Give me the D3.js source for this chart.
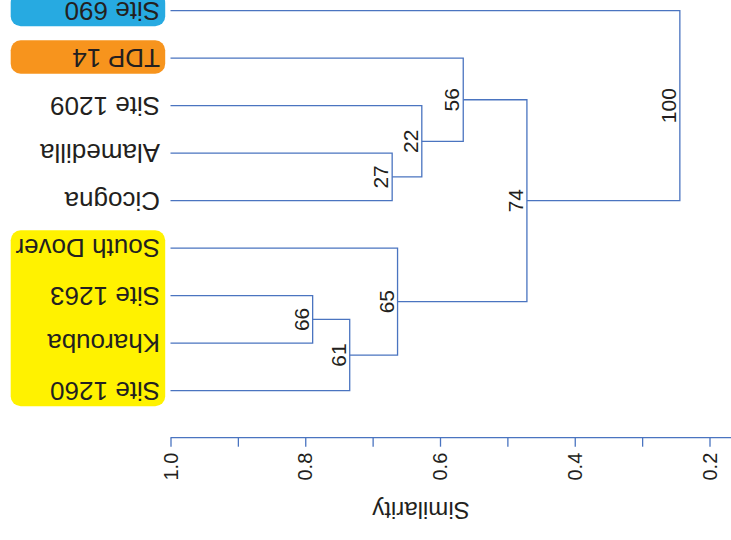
<!DOCTYPE html>
<html>
<head>
<meta charset="utf-8">
<script src="https://cdn.jsdelivr.net/npm/d3@7"></script>
<style>
  html, body { margin: 0; padding: 0; background: #fff; }
  svg { display: block; }
  text { font-family: "Liberation Sans", Arial, sans-serif; fill: #231f20; }
</style>
</head>
<body>
<svg id="chart" width="731" height="540"></svg>
<script>
// ---- data ----
const leaves = ["Site 690", "TDP 14", "Site 1209", "Alamedilla", "Cicogna",
                "South Dover", "Site 1263", "Kharouba", "Site 1260"];
// merges (R hclust style): negative = leaf index (1-based), positive = earlier merge (1-based)
const mergeLeft   = [-8, -9, -6, -5, -3, -2, 6, -1];
const mergeRight  = [-7,  1,  2, -4,  4,  5, 3,  7];
const mergeHeight = [0.789, 0.734, 0.663, 0.671, 0.627, 0.5655, 0.471, 0.244];
const mergeLabel  = ["66", "61", "65", "27", "22", "56", "74", "100"];
const axisTicks   = [1.0, 0.9, 0.8, 0.7, 0.6, 0.5, 0.4, 0.3, 0.2];
const axisLabels  = ["1.0", "", "0.8", "", "0.6", "", "0.4", "", "0.2"];
const axisTitle   = "Similarity";
const groups = [
  { from: "Site 690", to: "Site 690", color: "#27aae1" },
  { from: "TDP 14", to: "TDP 14", color: "#f7941d" },
  { from: "South Dover", to: "Site 1260", color: "#fff200" }
];

// ---- layout ----
const svg = d3.select("#chart");
const lineColor = "#4a74c0";
const x = d3.scaleLinear().domain([1.0, 0.2]).range([170.5, 709.5]);
const y = d3.scalePoint().domain(leaves).range([10.7, 390.7]);

// group boxes
svg.selectAll("rect.grp").data(groups).join("rect")
  .attr("class", "grp")
  .attr("x", 10.7)
  .attr("width", 154.5)
  .attr("y", d => y(d.from) - 18)
  .attr("height", d => y(d.to) - y(d.from) + 33.5)
  .attr("rx", 10).attr("ry", 10)
  .attr("fill", d => d.color);

// compute node positions
const nodes = [];
function childPos(c) {
  if (c < 0) return { x: x(1.0), y: y(leaves[-c - 1]) };
  return nodes[c - 1];
}
mergeHeight.forEach((h, i) => {
  const a = childPos(mergeLeft[i]), b = childPos(mergeRight[i]);
  const nx = x(h);
  nodes.push({ x: nx, y: (a.y + b.y) / 2, a, b, label: mergeLabel[i] });
});

const g = svg.append("g").attr("fill", "none").attr("stroke", lineColor)
  .attr("stroke-width", 1.3);
nodes.forEach(n => {
  g.append("path").attr("d",
    `M${n.a.x},${n.a.y}H${n.x}V${n.b.y}H${n.b.x}`);
});

// bootstrap labels
svg.selectAll("text.boot").data(nodes).join("text")
  .attr("class", "boot")
  .attr("transform", d => `translate(${d.x - 4},${d.y}) rotate(-90)`)
  .attr("text-anchor", "middle")
  .attr("font-size", 21)
  .text(d => d.label);

// leaf labels (upside down)
svg.selectAll("text.leaf").data(leaves).join("text")
  .attr("class", "leaf")
  .attr("transform", d => `translate(160,${y(d)}) rotate(180)`)
  .attr("text-anchor", "start")
  .attr("dominant-baseline", "central")
  .attr("font-size", 26)
  .text(d => d);

// axis
const axisY = 437.7;
const axis = d3.axisBottom(x).tickValues(axisTicks).tickSize(9).tickFormat("");
const ag = svg.append("g").attr("transform", `translate(0,${axisY})`).call(axis);
ag.select(".domain").remove();
ag.selectAll(".tick line").attr("stroke", lineColor).attr("stroke-width", 1.3);
ag.append("line").attr("x1", x(1.0)).attr("x2", 731).attr("y1", 0).attr("y2", 0)
  .attr("stroke", lineColor).attr("stroke-width", 1.3);

svg.selectAll("text.tick").data(axisTicks).join("text")
  .attr("class", "tick")
  .attr("transform", (d) => `translate(${x(d)},${axisY + 15}) rotate(-90)`)
  .attr("text-anchor", "end")
  .attr("dominant-baseline", "central")
  .attr("font-size", 20)
  .text((d, i) => axisLabels[i]);

svg.append("text")
  .attr("transform", "translate(421,510) rotate(180)")
  .attr("text-anchor", "middle")
  .attr("dominant-baseline", "central")
  .attr("font-size", 24)
  .text(axisTitle);
</script>
</body>
</html>
